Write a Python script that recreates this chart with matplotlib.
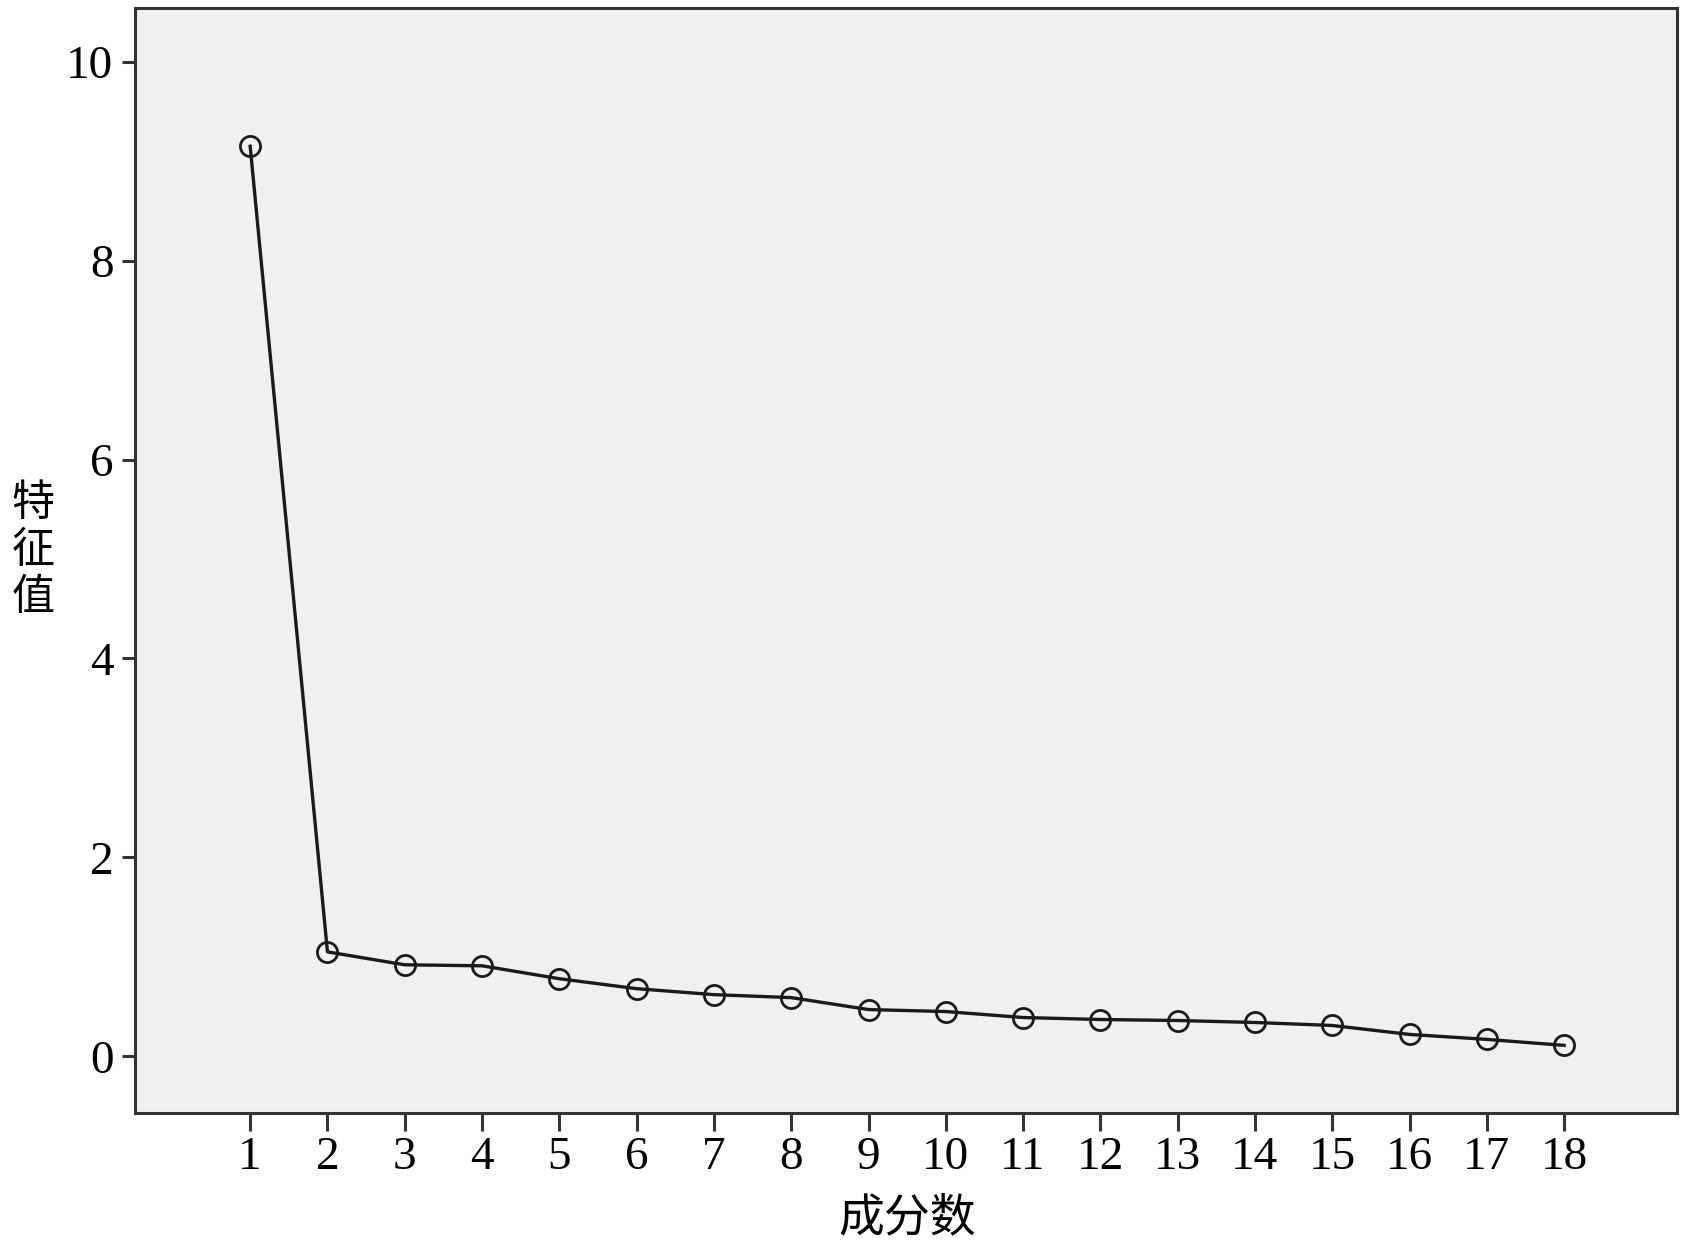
import numpy as np
import matplotlib.pyplot as plt

# scree plot data
components = list(range(1, 19))
eigenvalues = [9.15, 1.05, 0.92, 0.91, 0.78, 0.68, 0.62, 0.59, 0.47,
               0.45, 0.39, 0.37, 0.36, 0.34, 0.31, 0.22, 0.17, 0.11]
y_ticks = [0, 2, 4, 6, 8, 10]

plt.rcParams['font.family'] = ['Liberation Serif', 'Noto Sans CJK SC']

fig = plt.figure(figsize=(17.07, 12.6), dpi=100)
ax = fig.add_axes([135/1707, 1 - 1113/1260, (1677-135)/1707, (1113-8)/1260])
ax.set_facecolor('#f0f0f0')

ax.plot(components, eigenvalues, color='#1a1a1a', lw=2.4,
        marker='o', ms=14.5, mfc='none', mec='#1a1a1a', mew=2.0)

ax.set_xlim(-0.49, 19.46)
ax.set_ylim(-0.57, 10.54)
ax.set_xticks(components)
ax.set_xticklabels([str(c) for c in components])
ax.set_yticks(y_ticks)

for s in ax.spines.values():
    s.set_color('#333333')
    s.set_linewidth(2.2)

ax.tick_params(axis='x', length=13, width=2.2, color='#333333', pad=4, labelsize=34)
ax.tick_params(axis='y', length=9.5, width=2.2, color='#333333', pad=6, labelsize=34)

cjk = ['Noto Sans CJK SC', 'DejaVu Sans']
fig.text(907/1707, 1 - 1218/1260, '成分数', family=cjk, fontsize=33,
         fontweight='medium', ha='center', va='center')
fig.text(33/1707, 1 - 551/1260, '特\n征\n值', family=cjk, fontsize=31,
         fontweight='medium', ha='center', va='center', linespacing=1.08)

plt.savefig('out.png', dpi=100)
